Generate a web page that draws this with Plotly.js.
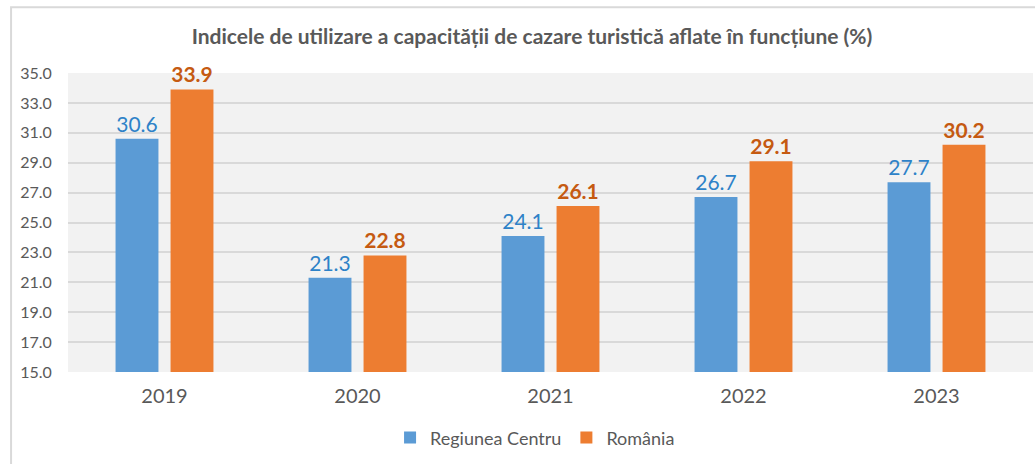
<!DOCTYPE html>
<html><head><meta charset="utf-8">
<script src="https://cdn.plot.ly/plotly-3.0.1.min.js"></script>
<style>html,body{margin:0;padding:0;background:#fff}#chart{width:1035px;height:464px}</style>
</head><body><div id="chart"></div>
<script>
var years = ['2019','2020','2021','2022','2023'];
var regiuneaCentru = [30.6, 21.3, 24.1, 26.7, 27.7];
var romania = [33.9, 22.8, 26.1, 29.1, 30.2];
var yTicks = [15,17,19,21,23,25,27,29,31,33,35];

var font = 'Lato, "Open Sans", "Liberation Sans", sans-serif';
var traces = [
  {type:'bar', name:'Regiunea Centru', x:years, y:regiuneaCentru, marker:{color:'#5B9BD5'},
   text:regiuneaCentru.map(function(v){return v.toFixed(1);}), textposition:'outside', cliponaxis:false,
   textfont:{family:font, size:21, color:'#2E82C8'}},
  {type:'bar', name:'România', x:years, y:romania, marker:{color:'#ED7D31'},
   text:romania.map(function(v){return '<b>'+v.toFixed(1)+'</b>';}), textposition:'outside', cliponaxis:false,
   textfont:{family:font, size:21, color:'#C55A11'}}
];
var layout = {
  width:1035, height:464,
  margin:{l:68, r:2, t:73, b:92},
  paper_bgcolor:'#ffffff', plot_bgcolor:'#F2F2F2',
  font:{family:font, color:'#595959'},
  title:{text:'<b>Indicele de utilizare a capacității de cazare turistică aflate în funcțiune (%)</b>',
         font:{family:font, size:21, color:'#595959'}, x:0.514, xanchor:'center', y:0.92, yanchor:'middle', yref:'container'},
  barmode:'group', bargap:0.43, bargroupgap:0.22,
  xaxis:{type:'category', tickfont:{size:20, color:'#595959'}, showgrid:false, zeroline:false, showline:false, ticks:'', ticklabelstandoff:10},
  yaxis:{range:[15,35], tickvals:yTicks, ticktext:yTicks.map(function(v){return v.toFixed(1);}),
         tickfont:{size:16, color:'#595959'}, gridcolor:'#D9D9D9', gridwidth:2, zeroline:false, showline:false,
         ticks:'outside', ticklen:12, tickcolor:'rgba(0,0,0,0)', automargin:false},
  showlegend:true,
  legend:{orientation:'h', x:0.484, xanchor:'center', y:-0.22, yanchor:'middle', font:{size:18, color:'#595959'}, itemwidth:30, traceorder:'normal'},
  shapes:[{type:'rect', xref:'paper', yref:'paper', x0:-0.059, x1:1.1, y0:-0.6, y1:1.22, line:{color:'#D9D9D9', width:2}, fillcolor:'rgba(0,0,0,0)', layer:'below'}]
};
Plotly.newPlot('chart', traces, layout, {displayModeBar:false});
</script></body></html>
